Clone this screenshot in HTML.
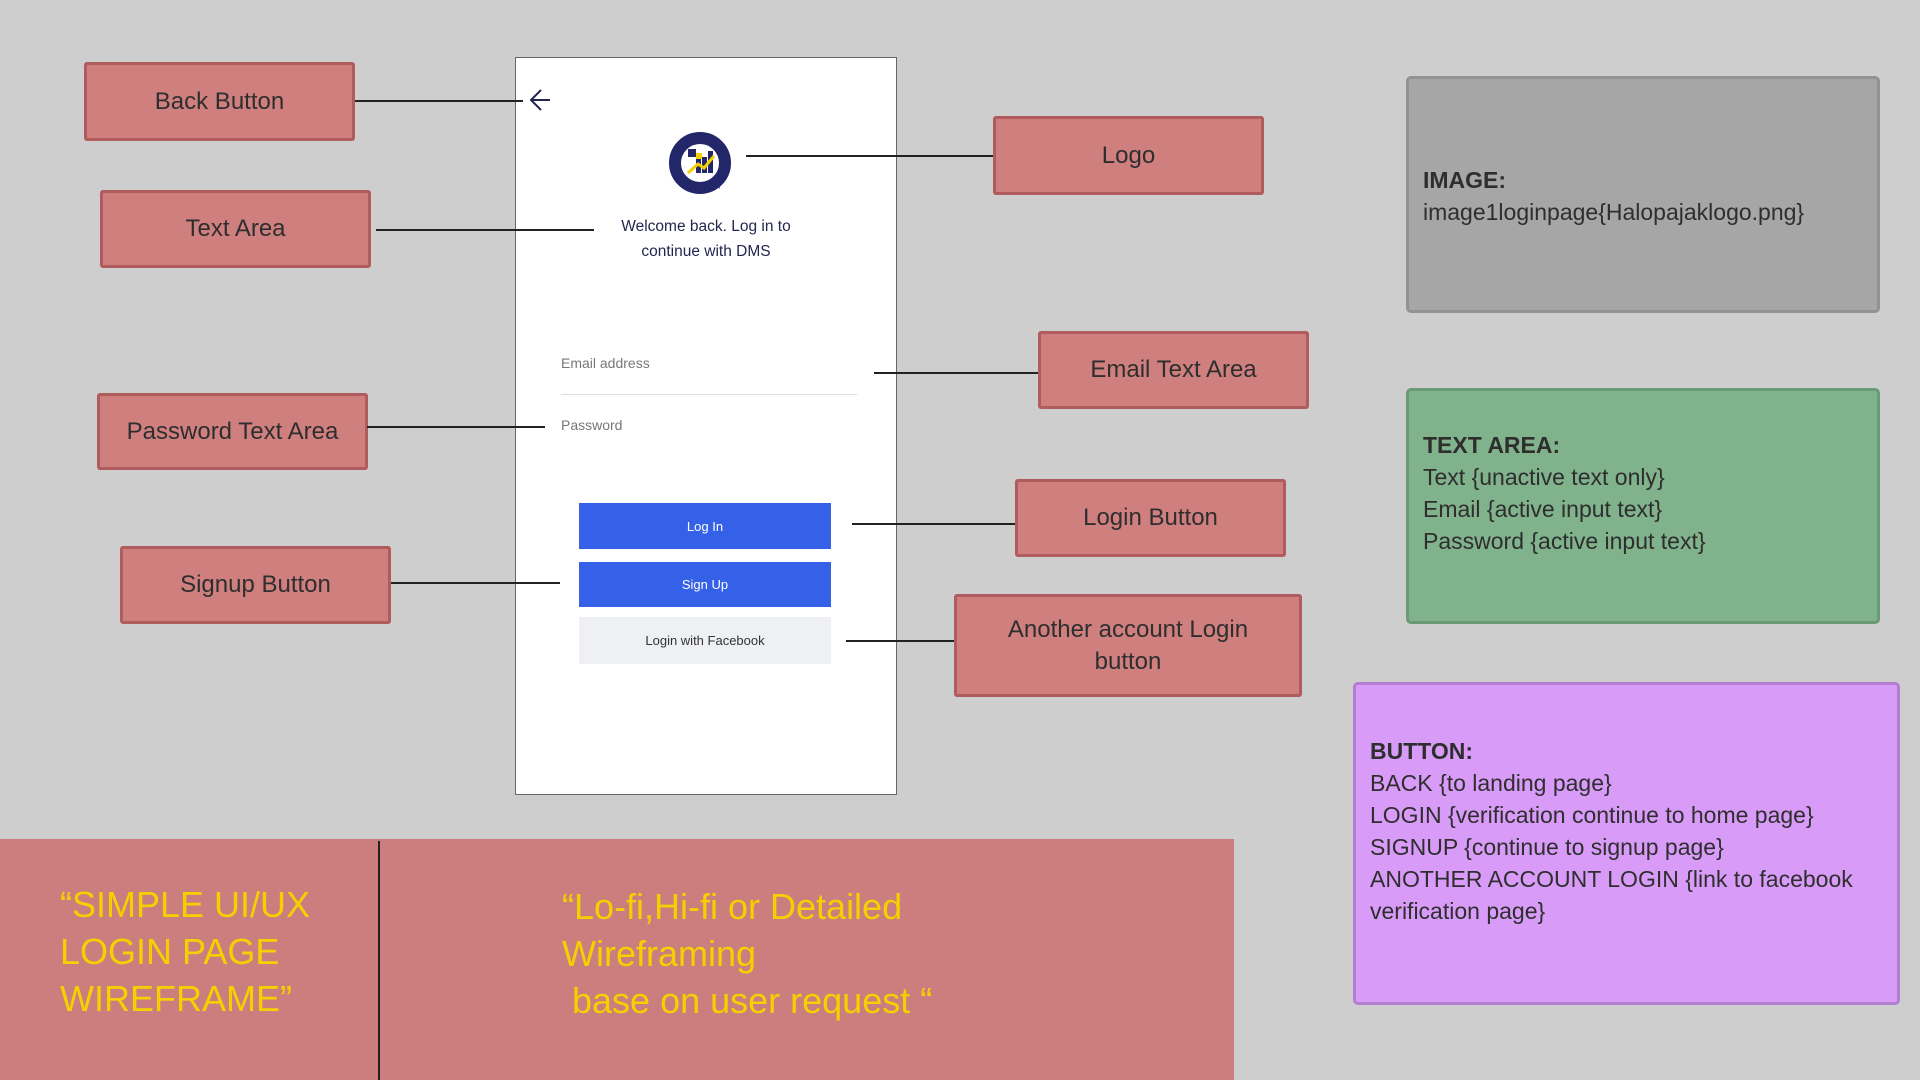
<!DOCTYPE html>
<html><head><meta charset="utf-8"><style>
*{margin:0;padding:0;box-sizing:border-box}
body{width:1920px;height:1080px;background:#cecece;position:relative;overflow:hidden;font-family:"Liberation Sans",sans-serif;color:#2e2e2e}
.a{position:absolute}
.lbl{position:absolute;background:#d07f7f;border:3px solid #b05c5c;border-radius:3px;display:flex;align-items:center;justify-content:center;text-align:center;font-size:24px;color:#2e2e2e;line-height:32px}
.ln{position:absolute;height:1.5px;background:#222}
.note{position:absolute;border:3px solid;border-radius:5px;font-size:23px;line-height:32px;padding-left:14px}
.btn{position:absolute;left:579px;width:252px;display:flex;align-items:center;justify-content:center;font-size:13px}
.y{position:absolute;color:#f5d000;font-size:36px;line-height:47px}
</style></head><body>
<div class="a" style="left:515px;top:57px;width:382px;height:738px;background:#fff;border:1.5px solid #666"></div>
<svg class="a" style="left:528px;top:88px" width="26" height="24"><path d="M22 12H3M13 2L3 12L13 22" fill="none" stroke="#23264e" stroke-width="2"/></svg>
<svg class="a" style="left:668px;top:131px" width="64" height="64">
<circle cx="32" cy="32" r="25" fill="#fff" stroke="#23276a" stroke-width="12"/>
<path d="M46 52 L52 58 L50 48Z" fill="#23276a"/>
<rect x="20" y="18" width="8" height="8" fill="#23276a"/><rect x="28" y="22" width="6" height="6" fill="#f5d000"/>
<rect x="28" y="28" width="5" height="14" fill="#23276a"/><rect x="34" y="26" width="5" height="16" fill="#23276a"/><rect x="40" y="20" width="5" height="22" fill="#23276a"/>
<path d="M20 42 L30 33 L36 37 L46 25" fill="none" stroke="#f5d000" stroke-width="3"/>
</svg>
<div class="a" style="left:515px;top:214px;width:382px;text-align:center;font-size:15.5px;line-height:25px;color:#23264e">Welcome back. Log in to<br>continue with DMS</div>
<div class="a" style="left:561px;top:355px;font-size:14px;color:#777">Email address</div>
<div class="a" style="left:561px;top:394px;width:296px;height:1px;background:#ddd"></div>
<div class="a" style="left:561px;top:417px;font-size:14px;color:#777">Password</div>
<div class="btn" style="top:503px;height:46px;background:#3561e8;color:#fff">Log In</div>
<div class="btn" style="top:562px;height:45px;background:#3561e8;color:#fff">Sign Up</div>
<div class="btn" style="top:617px;height:47px;background:#eef0f3;color:#333">Login with Facebook</div>

<div class="lbl" style="left:84px;top:62px;width:271px;height:79px">Back Button</div>
<div class="ln" style="left:355px;top:100px;width:168px"></div>
<div class="lbl" style="left:100px;top:190px;width:271px;height:78px">Text Area</div>
<div class="ln" style="left:376px;top:229px;width:218px"></div>
<div class="lbl" style="left:97px;top:393px;width:271px;height:77px">Password Text Area</div>
<div class="ln" style="left:367px;top:426px;width:178px"></div>
<div class="lbl" style="left:120px;top:546px;width:271px;height:78px">Signup Button</div>
<div class="ln" style="left:391px;top:582px;width:169px"></div>
<div class="lbl" style="left:993px;top:116px;width:271px;height:79px">Logo</div>
<div class="ln" style="left:746px;top:155px;width:247px"></div>
<div class="lbl" style="left:1038px;top:331px;width:271px;height:78px">Email Text Area</div>
<div class="ln" style="left:874px;top:372px;width:164px"></div>
<div class="lbl" style="left:1015px;top:479px;width:271px;height:78px">Login Button</div>
<div class="ln" style="left:852px;top:523px;width:163px"></div>
<div class="lbl" style="left:954px;top:594px;width:348px;height:103px">Another account Login<br>button</div>
<div class="ln" style="left:846px;top:640px;width:108px"></div>

<div class="note" style="left:1406px;top:76px;width:474px;height:237px;background:#a6a6a6;border-color:#929292;padding-top:85px"><b>IMAGE:</b><br>image1loginpage{Halopajaklogo.png}</div>
<div class="note" style="left:1406px;top:388px;width:474px;height:236px;background:#80b28c;border-color:#6a9a76;padding-top:38px"><b>TEXT AREA:</b><br>Text {unactive text only}<br>Email {active input text}<br>Password {active input text}</div>
<div class="note" style="left:1353px;top:682px;width:547px;height:323px;background:#d99bf8;border-color:#b27ed0;padding-top:50px"><b>BUTTON:</b><br>BACK {to landing page}<br>LOGIN {verification continue to home page}<br>SIGNUP {continue to signup page}<br>ANOTHER ACCOUNT LOGIN {link to facebook verification page}</div>

<div class="a" style="left:0;top:839px;width:1234px;height:241px;background:#cc7e7e"></div>
<div class="a" style="left:378px;top:841px;width:1.5px;height:239px;background:#222"></div>
<div class="y" style="left:60px;top:881px">“SIMPLE UI/UX<br>LOGIN PAGE<br>WIREFRAME”</div>
<div class="y" style="left:562px;top:883px">“Lo-fi,Hi-fi or Detailed<br>Wireframing<br>&nbsp;base on user request “</div>
</body></html>
